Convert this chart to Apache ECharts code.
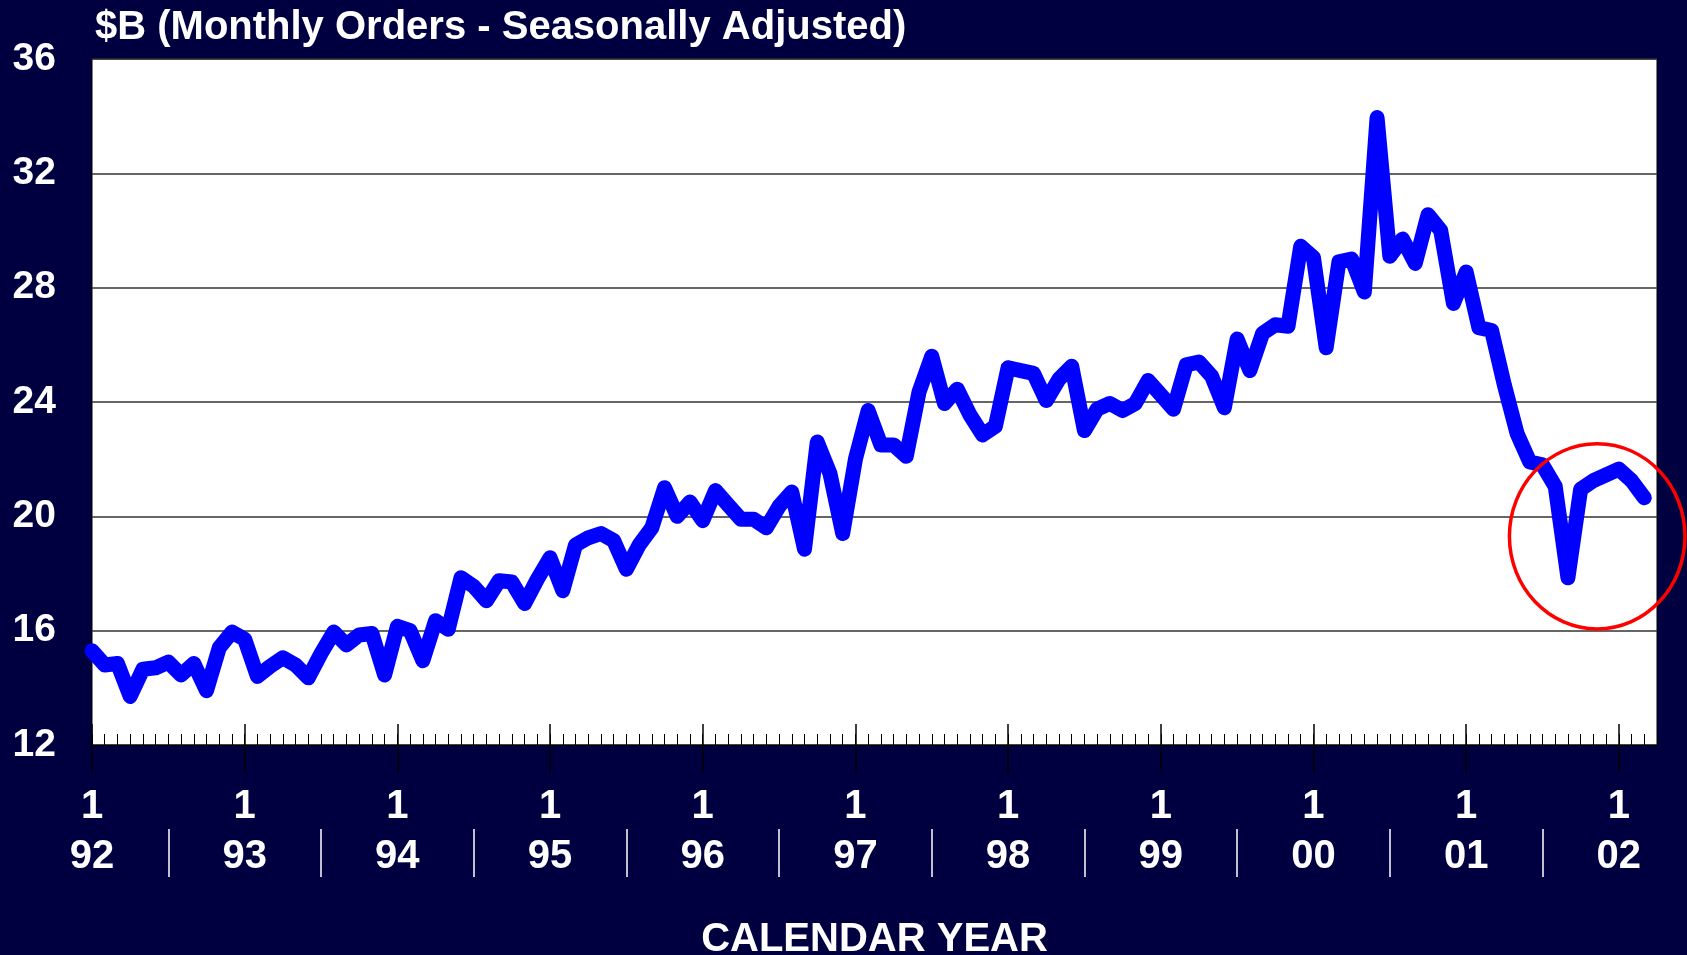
<!DOCTYPE html>
<html style="height: 100%">
<head>
<meta charset="utf-8">
</head>
<body style="height: 100%; margin: 0; background: #000040">
<div id="container" style="width: 1687px; height: 955px"></div>
<script src="https://cdn.jsdelivr.net/npm/echarts@6.0.0/dist/echarts.min.js"></script>
<script type="text/javascript">
// monthly orders, $B, seasonally adjusted
var years = ['92', '93', '94', '95', '96', '97', '98', '99', '00', '01', '02'];
var orders92 = [15.3, 14.8, 14.85, 13.7, 14.65, 14.7, 14.9, 14.45, 14.85, 13.9, 15.4, 15.95];
var orders93 = [15.7, 14.4, 14.75, 15.05, 14.8, 14.35, 15.2, 15.95, 15.5, 15.85, 15.9, 14.45];
var orders94 = [16.15, 16.0, 14.95, 16.35, 16.05, 17.85, 17.55, 17.05, 17.75, 17.7, 16.95, 17.8];
var orders95 = [18.55, 17.4, 19.0, 19.25, 19.4, 19.15, 18.15, 19.0, 19.6, 21.0, 20.0, 20.5];
var orders96 = [19.85, 20.9, 20.4, 19.9, 19.9, 19.6, 20.35, 20.85, 18.85, 22.6, 21.5, 19.4];
var orders97 = [22.0, 23.7, 22.5, 22.5, 22.1, 24.35, 25.6, 23.95, 24.45, 23.55, 22.85, 23.15];
var orders98 = [25.2, 25.1, 25.0, 24.05, 24.8, 25.25, 23.0, 23.75, 23.95, 23.7, 23.95, 24.75];
var orders99 = [24.25, 23.75, 25.3, 25.4, 24.9, 23.8, 26.2, 25.1, 26.4, 26.7, 26.65, 29.45];
var orders00 = [29.05, 25.9, 28.9, 29.0, 27.85, 33.95, 29.1, 29.7, 28.85, 30.55, 30.0, 27.45];
var orders01 = [28.55, 26.6, 26.5, 24.6, 22.9, 21.9, 21.8, 21.05, 17.85, 20.95, 21.25, 21.45];
var orders02 = [21.65, 21.25, 20.65];

// red ring drawn round the last months, in data units (month index, $B)
var ringCenter = [118.3, 19.3];
var ringRadius = [6.9, 3.24];

var orders = [].concat(orders92, orders93, orders94, orders95, orders96, orders97,
    orders98, orders99, orders00, orders01, orders02);

// one category per month, Jan 92 .. Apr 02 (axis runs one month past the last point)
var months = [];
years.forEach(function (y) {
    for (var m = 1; m <= 12; m++) {
        if (months.length < 124) months.push(m + '/' + y);
    }
});

var font = 'Liberation Sans, Arial, sans-serif';

var dom = document.getElementById('container');
var myChart = echarts.init(dom);
var option = {
    backgroundColor: '#000040',
    animation: false,
    title: {
        text: '$B (Monthly Orders - Seasonally Adjusted)',
        left: 90,
        top: 3,
        textStyle: { color: '#fff', fontSize: 40, fontWeight: 'bold', fontFamily: font }
    },
    grid: {
        left: 92,
        right: 30,
        top: 59,
        bottom: 210,
        outerBoundsMode: 'none',
        containLabel: false,
        show: true,
        backgroundColor: '#fff',
        borderColor: '#000',
        borderWidth: 1
    },
    xAxis: [{
        type: 'category',
        data: months,
        boundaryGap: false,
        name: 'CALENDAR YEAR',
        nameLocation: 'middle',
        nameGap: 175,
        nameTextStyle: { color: '#fff', fontSize: 40, fontWeight: 'bold', fontFamily: font },
        axisLine: { show: true, lineStyle: { color: '#000', width: 1 } },
        axisTick: { show: true, inside: true, length: 11, interval: 0, lineStyle: { color: '#000', width: 1 } },
        axisLabel: {
            interval: function (i) { return i % 12 === 0; },
            formatter: function (v) { return '1\n' + v.split('/')[1]; },
            color: '#fff',
            fontSize: 40,
            fontWeight: 'bold',
            fontFamily: font,
            lineHeight: 50,
            margin: 37
        },
        splitLine: { show: false }
    }, {
        // January ticks, crossing the axis line
        type: 'category',
        data: months,
        boundaryGap: false,
        position: 'bottom',
        offset: -21,
        axisLine: { show: false },
        axisTick: {
            show: true, length: 49,
            interval: function (i) { return i % 12 === 0; },
            lineStyle: { color: '#000', width: 1.5 }
        },
        axisLabel: { show: false },
        splitLine: { show: false }
    }, {
        // white separators between year labels
        type: 'category',
        data: months,
        boundaryGap: false,
        position: 'bottom',
        offset: 84,
        axisLine: { show: false },
        axisTick: {
            show: true, length: 48,
            interval: function (i) { return i % 12 === 6; },
            lineStyle: { color: '#fff', width: 1.5 }
        },
        axisLabel: { show: false },
        splitLine: { show: false }
    }],
    yAxis: {
        type: 'value',
        min: 12,
        max: 36,
        interval: 4,
        axisLine: { show: false },
        axisTick: { show: false },
        axisLabel: { color: '#fff', fontSize: 39, fontWeight: 'bold', fontFamily: font, margin: 36 },
        splitLine: { lineStyle: { color: '#333', width: 1.5 } }
    },
    series: [{
        type: 'line',
        data: orders,
        showSymbol: false,
        lineStyle: { color: '#0000ff', width: 15, join: 'round', cap: 'round' },
        z: 5
    }]
};
myChart.setOption(option);

// place the ring from data coordinates
var p0 = myChart.convertToPixel({ gridIndex: 0 }, [0, ringCenter[1]]);
var p1 = myChart.convertToPixel({ gridIndex: 0 }, [12, ringCenter[1] + ringRadius[1]]);
var perMonth = (p1[0] - p0[0]) / 12;
myChart.setOption({
    graphic: [{
        type: 'ellipse',
        z: 100,
        shape: {
            cx: p0[0] + ringCenter[0] * perMonth,
            cy: p0[1],
            rx: ringRadius[0] * perMonth,
            ry: p0[1] - p1[1]
        },
        style: { fill: null, stroke: '#ff0000', lineWidth: 3.5 }
    }]
});
</script>
</body>
</html>
